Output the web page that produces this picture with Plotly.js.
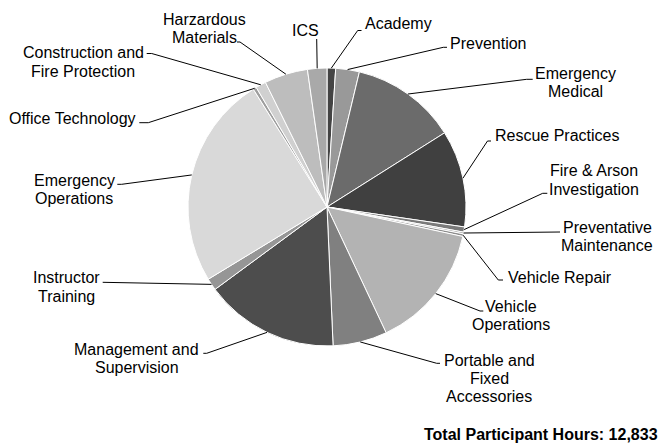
<!DOCTYPE html>
<html>
<head>
<meta charset="utf-8">
<script src="https://cdn.plot.ly/plotly-3.0.1.min.js"></script>
<style>html,body{margin:0;padding:0;background:#fff;}#chart{width:663px;height:444px;}</style>
</head>
<body>
<div id="chart"></div>
<script>
// ---- data ----
var categories = ["Academy","Prevention","Emergency Medical","Rescue Practices","Fire & Arson Investigation","Preventative Maintenance","Vehicle Repair","Vehicle Operations","Portable and Fixed Accessories","Management and Supervision","Instructor Training","Emergency Operations","Office Technology","Construction and Fire Protection","Harzardous Materials","ICS"];
var hours = [128, 353, 1578, 1444, 77, 26, 39, 1874, 808, 2002, 180, 3182, 51, 154, 648, 289];
var labelLines = [["Academy"],["Prevention"],["Emergency","Medical"],["Rescue Practices"],["Fire & Arson","Investigation"],["Preventative","Maintenance"],["Vehicle Repair"],["Vehicle","Operations"],["Portable and","Fixed","Accessories"],["Management and","Supervision"],["Instructor","Training"],["Emergency","Operations"],["Office Technology"],["Construction and","Fire Protection"],["Harzardous","Materials"],["ICS"]];
var sliceColors = ["#444444","#999999","#6b6b6b","#404040","#7a7a7a","#a6a6a6","#8c8c8c","#b3b3b3","#808080","#4d4d4d","#969696","#d9d9d9","#9e9e9e","#d0d0d0","#bdbdbd","#a9a9a9"];

// ---- layout (pixel positions of labels) ----
var W = 663, H = 444;
var CX = 327, CY = 207, R = 139;
var labelPos = [
  {a:"left",   x:363,   y:23,    pts:[[357.7,30.5],[361.5,30.5]]},
  {a:"left",   x:448,   y:44,    pts:[[443.3,47.3],[447,47.3]]},
  {a:"center", x:575.5, y:73.3,  pts:[[526.7,79.3],[532.7,79.3]]},
  {a:"left",   x:492.7, y:135,   pts:[[487.5,141],[491,141]]},
  {a:"center", x:594,   y:170.7, pts:[[542.7,193.3],[547.3,193.3]]},
  {a:"center", x:607,   y:227.3, pts:[[560,232]]},
  {a:"left",   x:506,   y:277.7, pts:[[498.3,280],[503,280]]},
  {a:"center", x:511,   y:306,   pts:[[480,311],[483.3,311]]},
  {a:"center", x:489,   y:360,   pts:[[436.7,363.3],[440,363.3]]},
  {a:"center", x:136.7, y:349,   pts:[[206.7,353.3],[203.3,353.3]]},
  {a:"center", x:66.7,  y:277.7, pts:[[102.7,282.3]]},
  {a:"center", x:74,    y:180,   pts:[[121.7,184.3],[117.3,184.3]]},
  {a:"right",  x:137.7, y:118.3, pts:[[148.3,122.7],[139.3,122.7]]},
  {a:"center", x:83,    y:52.7,  pts:[[151.7,53.5],[146.7,53.5]]},
  {a:"center", x:204,   y:19,    pts:[[240,42],[237,42]]},
  {a:"center", x:305,   y:30.7,  pts:[[316.7,39]]}
];
var LINE_H = 18.4;
var FONT = "Liberation Sans, Arial, sans-serif";

function px(x){ return x / W; }
function py(y){ return 1 - y / H; }

var total = hours.reduce(function(s,v){return s+v;},0);

var trace = {
  type: "pie",
  labels: categories,
  values: hours,
  sort: false,
  direction: "clockwise",
  rotation: 0,
  textinfo: "none",
  hoverinfo: "label+value+percent",
  marker: {colors: sliceColors, line: {color: "#ffffff", width: 1}},
  domain: {x: [px(CX - R), px(CX + R)], y: [py(CY + R), py(CY - R)]},
  showlegend: false
};

var shapes = [], annotations = [];
var cum = 0;
for (var i = 0; i < hours.length; i++) {
  var mid = (cum + hours[i] / 2) / total * 2 * Math.PI;
  cum += hours[i];
  var ex = CX + R * Math.sin(mid), ey = CY - R * Math.cos(mid);
  var lp = labelPos[i];
  var path = "M" + px(ex) + "," + py(ey);
  lp.pts.forEach(function(p){ path += " L" + px(p[0]) + "," + py(p[1]); });
  shapes.push({type:"path", xref:"paper", yref:"paper", path: path, line:{color:"#000000", width:1}});
  labelLines[i].forEach(function(t, k){
    annotations.push({xref:"paper", yref:"paper", x: px(lp.x), y: py(lp.y + k * LINE_H),
      xanchor: lp.a, yanchor: "middle", text: t, showarrow: false,
      font: {family: FONT, size: 16, color: "#000000"}});
  });
}
annotations.push({xref:"paper", yref:"paper", x: px(660), y: py(434), xanchor:"right", yanchor:"middle",
  text: "<b>Total Participant Hours: " + total.toLocaleString("en-US") + "</b>", showarrow:false,
  font: {family: FONT, size: 16, color: "#000000"}});

var layout = {
  width: W, height: H,
  margin: {l:0, r:0, t:0, b:0},
  paper_bgcolor: "#ffffff", plot_bgcolor: "#ffffff",
  shapes: shapes, annotations: annotations,
  font: {family: FONT}
};
Plotly.newPlot("chart", [trace], layout, {displayModeBar: false, staticPlot: true});
</script>
</body>
</html>
